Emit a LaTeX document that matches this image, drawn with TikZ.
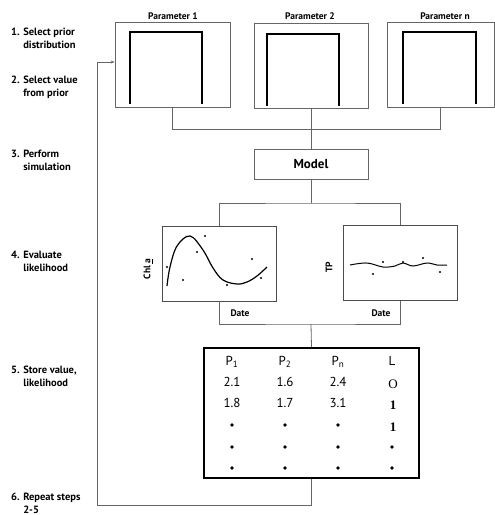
\documentclass[tikz,border=0pt]{standalone}
\usepackage{fontspec}
\setmainfont{PT Sans}
\newfontfamily\oldnum{Liberation Serif}
\usetikzlibrary{arrows.meta}

\tikzset{
  steplabel/.style={font=\bfseries\fontsize{10.5}{13}\selectfont, align=left, anchor=west, inner sep=1pt},
  partitle/.style={font=\bfseries\fontsize{9.5}{11}\selectfont, inner sep=1pt},
  parbox/.style={draw=black!60, line width=0.8pt, minimum height=85pt, inner sep=0pt},
  plotbox/.style={draw=black!70, line width=0.8pt, minimum width=114pt, minimum height=75pt, inner sep=0pt},
  axislabel/.style={font=\bfseries\fontsize{9.5}{11}\selectfont, inner sep=1pt},
  conn/.style={draw=black!60, line width=0.8pt},
  cell/.style={font=\fontsize{13}{15}\selectfont, inner sep=0pt},
  lcell/.style={font=\oldnum\fontsize{13}{15}\selectfont, inner sep=0pt},
  uniform/.style={line width=1.6pt},
}

\begin{document}
\begin{tikzpicture}[x=1pt,y=-1pt]
\useasboundingbox (0,0) rectangle (495,515);

% steps
\node[steplabel] (s1) at (10,38) {1. Select prior\\\phantom{1. }distribution};
\node[steplabel] (s2) at (10,87) {2. Select value\\\phantom{1. }from prior};
\node[steplabel] (s3) at (10,160) {3. Perform\\\phantom{1. }simulation};
\node[steplabel] (s4) at (10,261) {4. Evaluate\\\phantom{1. }likelihood};
\node[steplabel] (s5) at (10,376) {5. Store value,\\\phantom{1. }likelihood};
\node[steplabel] (s6) at (10,503) {6. Repeat steps\\\phantom{6. }2-5};

% parameters
\node[parbox, minimum width=115pt] (par1) at (172.5,65) {};
\node[parbox, minimum width=114pt] (par2) at (311,65.5) {};
\node[parbox, minimum width=107pt] (parn) at (440.5,65) {};
\node[partitle] (t1) at (173,16) {Parameter 1};
\node[partitle] (t2) at (310,16) {Parameter 2};
\node[partitle] (tn) at (445,16) {Parameter n};
\draw[uniform] (130,104) |- (202,32) -- (202,104);
\draw[uniform] (267,106) |- (339,34) -- (339,106);
\draw[uniform] (403,104) |- (476,32) -- (476,104);

% model
\node[draw=black!60, line width=0.8pt, minimum width=114pt, minimum height=30pt,
      font=\bfseries\fontsize{13}{15}\selectfont] (model) at (311,164) {Model};

\draw[conn] (par1.south) -- ++(0,21) -| (parn.south);
\draw[conn] (par2.south) -- (model.north);

% plots
\node[plotbox] (plot1) at (219,263.5) {};
\node[plotbox] (plot2) at (400,263) {};
\coordinate (mj) at (311,203);
\draw[conn] (model.south) -- (mj);
\draw[conn] (plot1.north) |- (mj) -| (plot2.north);

\node[axislabel, rotate=90] (ya) at (148,269) {Chl \underline{a}};
\node[axislabel, rotate=90] (yb) at (329,267) {TP};
\node[axislabel] (xa) at (240,313) {Date};
\node[axislabel] (xb) at (381,313) {Date};

\draw[line width=1.2pt] plot[smooth, tension=0.6] coordinates
  {(167,286) (170,267) (177,246) (190,236) (203,250) (213,268) (223,280)
   (237,284) (247,282) (257,276) (267,267)};
\foreach \px/\py in {167/267, 183/280, 197/252, 205/236, 227/285, 252/259, 261/278}
  \fill (\px,\py) circle (1.2pt);

\draw[line width=1pt] plot[smooth, tension=0.6] coordinates
  {(350,265) (367,263) (383,267) (395,266) (403,263) (413,266) (427,263) (437,265) (447,265)};
\foreach \px/\py in {373/274, 383/262, 403/262, 423/258, 440/272}
  \fill (\px,\py) circle (1.2pt);

% table
\node[draw, line width=1.6pt, minimum width=215pt, minimum height=130pt, inner sep=0pt] (table) at (311.5,413) {};
\coordinate (pj) at (311,324);
\draw[conn] (plot1.south) |- (pj) -| (plot2.south);
\draw[conn] (pj) -- (table.north);

\foreach \cx/\hd/\va/\vb [count=\i] in {232/P\textsubscript{1}/2.1/1.8,
                                       285/P\textsubscript{2}/1.6/1.7,
                                       338/P\textsubscript{n}/2.4/3.1} {
  \node[cell] (h\i) at (\cx,362) {\hd};
  \node[cell] (a\i) at (\cx,382) {\va};
  \node[cell] (b\i) at (\cx,403) {\vb};
  \foreach \ry in {425,447,468}
    \fill (\cx,\ry) circle (1.8pt);
}
\node[cell] (hl) at (392,361) {L};
\node[lcell] (al) at (393,384) {O};
\node[lcell] (bl) at (393,405) {\textbf{1}};
\node[lcell] (cl) at (393,427) {\textbf{1}};
\foreach \ry in {447,468}
  \fill (392,\ry) circle (1.8pt);

% repeat loop
\coordinate (loop) at (97,62);
\draw[conn, -{Stealth[length=4pt, width=3pt]}] (table.south) -- ++(0,27) -| (loop) -- (loop -| par1.west);

\end{tikzpicture}
\end{document}
